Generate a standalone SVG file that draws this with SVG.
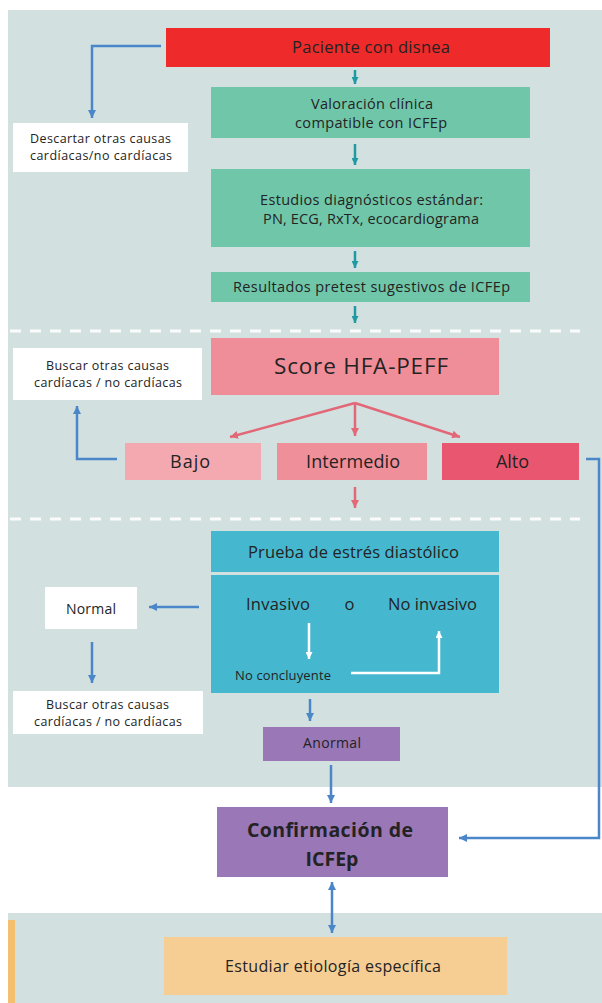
<svg xmlns="http://www.w3.org/2000/svg" width="602" height="1003" viewBox="0 0 602 1003">
<style>
text{font-family:"Open Sans",Roboto,"Liberation Sans",Arial,sans-serif;fill:#232323;text-anchor:middle}
.s{font-size:12.5px}
.m{font-size:14.5px}
.l{font-size:16.5px}
.k{font-size:18px}
.b{font-weight:bold;font-size:19.5px}
.cb{stroke:#4a86c8;stroke-width:2.5;fill:none}
.ct{stroke:#1f9aa3;stroke-width:2.5;fill:none}
.cr{stroke:#e26777;stroke-width:2.5;fill:none}
.cw{stroke:#ffffff;stroke-width:2.5;fill:none}
.dash{stroke:#ffffff;stroke-width:3;stroke-dasharray:11 9;opacity:0.9}
</style>
<defs>
<marker id="ab" viewBox="0 0 10 10" refX="10" refY="5" markerWidth="8" markerHeight="8" markerUnits="userSpaceOnUse" orient="auto-start-reverse"><path d="M0,0 L10,5 L0,10 z" fill="#4a86c8"/></marker>
<marker id="at" viewBox="0 0 10 10" refX="10" refY="5" markerWidth="7" markerHeight="7" markerUnits="userSpaceOnUse" orient="auto"><path d="M0,0 L10,5 L0,10 z" fill="#1f9aa3"/></marker>
<marker id="ar" viewBox="0 0 10 10" refX="10" refY="5" markerWidth="8" markerHeight="8" markerUnits="userSpaceOnUse" orient="auto"><path d="M0,0 L10,5 L0,10 z" fill="#e26777"/></marker>
<marker id="aw" viewBox="0 0 10 10" refX="10" refY="5" markerWidth="7" markerHeight="7" markerUnits="userSpaceOnUse" orient="auto"><path d="M0,0 L10,5 L0,10 z" fill="#ffffff"/></marker>
</defs>
<rect width="602" height="1003" fill="#ffffff"/>
<g id="panels">
<rect x="8" y="10" width="594" height="777" fill="#d2e1e0"/>
<rect x="8" y="913" width="594" height="90" fill="#d2e1e0"/>
<rect x="8" y="920" width="7" height="83" fill="#f4c070"/>
<line class="dash" x1="10" y1="331" x2="580" y2="331"/>
<line class="dash" x1="10" y1="519" x2="580" y2="519"/>
</g>
<g id="n-paciente"><rect x="166" y="28" width="384" height="39" fill="#ee2a2a"/><text x="371" y="53" style="font-size:16.5px" textLength="158">Paciente con disnea</text></g>
<g id="n-valoracion"><rect x="211" y="87" width="319" height="51" fill="#70c6a9"/><text class="m" x="372" y="109" textLength="122">Valoración clínica</text><text class="m" x="371" y="128" textLength="152">compatible con ICFEp</text></g>
<g id="n-estudios"><rect x="211" y="169" width="319" height="78" fill="#70c6a9"/><text class="m" x="371.5" y="205" textLength="223">Estudios diagnósticos estándar:</text><text class="m" x="371" y="224" textLength="216">PN, ECG, RxTx, ecocardiograma</text></g>
<g id="n-resultados"><rect x="211" y="272" width="319" height="30" fill="#70c6a9"/><text class="m" x="371.5" y="292" textLength="277">Resultados pretest sugestivos de ICFEp</text></g>
<g id="n-descartar"><rect x="13" y="123" width="175" height="49" fill="#ffffff"/><text class="s" x="100.5" y="143" textLength="141">Descartar otras causas</text><text class="s" x="101" y="160" textLength="142">cardíacas/no cardíacas</text></g>
<g id="n-score"><rect x="211" y="338" width="288" height="57" fill="#ef8e99"/><text x="361" y="374" style="font-size:22.5px" textLength="174">Score HFA-PEFF</text></g>
<g id="n-buscar1"><rect x="13" y="348" width="189" height="52" fill="#ffffff"/><text class="s" x="107.5" y="370" textLength="123">Buscar otras causas</text><text class="s" x="108" y="387" textLength="148">cardíacas / no cardíacas</text></g>
<g id="n-bajo"><rect x="125" y="443" width="136" height="37" fill="#f4a9b1"/><text class="k" x="190" y="468" textLength="40">Bajo</text></g>
<g id="n-intermedio"><rect x="277" y="443" width="150" height="37" fill="#ef8f9a"/><text class="k" x="353" y="468" textLength="94">Intermedio</text></g>
<g id="n-alto"><rect x="442" y="443" width="137" height="37" fill="#e9566f"/><text class="k" x="512.5" y="468" textLength="33">Alto</text></g>
<g id="n-prueba"><rect x="211" y="531" width="288" height="41" fill="#45b8cf"/><text class="l" x="353.5" y="558" textLength="211">Prueba de estrés diastólico</text></g>
<g id="n-metodo"><rect x="211" y="575" width="288" height="118" fill="#45b8cf"/><text class="l" x="278" y="610" textLength="64">Invasivo</text><text class="l" x="349.5" y="610">o</text><text class="l" x="432.5" y="610" textLength="89">No invasivo</text><text x="235" y="680" style="font-size:13px;text-anchor:start" textLength="96">No concluyente</text></g>
<g id="n-normal"><rect x="45" y="587" width="92" height="42" fill="#ffffff"/><text x="91" y="614" style="font-size:14px" textLength="50">Normal</text></g>
<g id="n-buscar2"><rect x="13" y="691" width="190" height="43" fill="#ffffff"/><text class="s" x="107.5" y="709" textLength="123">Buscar otras causas</text><text class="s" x="108" y="726" textLength="148">cardíacas / no cardíacas</text></g>
<g id="n-anormal"><rect x="263" y="727" width="137" height="34" fill="#9a77b7"/><text x="332" y="748" style="font-size:14px" textLength="58">Anormal</text></g>
<g id="n-confirmacion"><rect x="217" y="807" width="231" height="70" fill="#9a77b7"/><text class="b" x="330" y="837" textLength="166">Confirmación de</text><text class="b" x="332" y="866">ICFEp</text></g>
<g id="n-etiologia"><rect x="164" y="937" width="343" height="58" fill="#f6cd93"/><text x="333" y="972" style="font-size:16px" textLength="216">Estudiar etiología específica</text></g>
<g id="connectors">
<line class="ct" x1="355" y1="70" x2="355" y2="84" marker-end="url(#at)"/>
<line class="ct" x1="355" y1="144" x2="355" y2="165" marker-end="url(#at)"/>
<line class="ct" x1="355" y1="251" x2="355" y2="268" marker-end="url(#at)"/>
<line class="ct" x1="355" y1="306" x2="355" y2="323" marker-end="url(#at)"/>
<polyline class="cb" points="161,46 92,46 92,118" marker-end="url(#ab)"/>
<line class="cr" x1="355" y1="403" x2="230" y2="437" marker-end="url(#ar)"/>
<line class="cr" x1="355" y1="403" x2="355" y2="436" marker-end="url(#ar)"/>
<line class="cr" x1="355" y1="403" x2="460" y2="437" marker-end="url(#ar)"/>
<line class="cr" x1="355" y1="487" x2="355" y2="508" marker-end="url(#ar)"/>
<polyline class="cb" points="117,459 77,459 77,406" marker-end="url(#ab)"/>
<polyline class="cb" points="586,459 599,459 599,838 459,838" marker-end="url(#ab)"/>
<line class="cw" x1="309" y1="623" x2="309" y2="659" marker-end="url(#aw)"/>
<polyline class="cw" points="351,673 439,673 439,631" marker-end="url(#aw)"/>
<line class="cb" x1="199" y1="607" x2="149" y2="607" marker-end="url(#ab)"/>
<line class="cb" x1="92" y1="642" x2="92" y2="683" marker-end="url(#ab)"/>
<line class="cb" x1="310" y1="699" x2="310" y2="721" marker-end="url(#ab)"/>
<line class="cb" x1="331" y1="765" x2="331" y2="803" marker-end="url(#ab)"/>
<line class="cb" x1="332" y1="882" x2="332" y2="933" marker-start="url(#ab)" marker-end="url(#ab)"/>
</g>
</svg>
